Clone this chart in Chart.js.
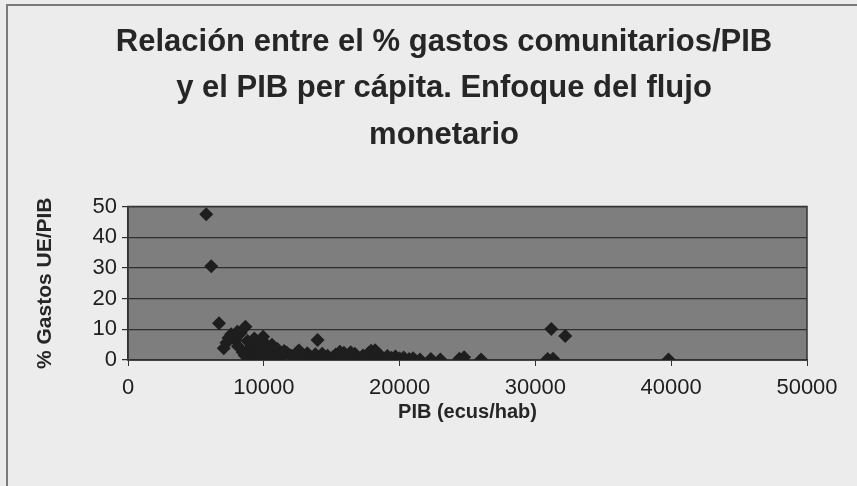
<!DOCTYPE html>
<html>
<head>
<meta charset="utf-8">
<script src="https://cdn.jsdelivr.net/npm/chart.js@4.4.1/dist/chart.umd.min.js"></script>
<style>
html, body { margin: 0; padding: 0; background: #ececec; overflow: hidden; }
#wrap { width: 857px; height: 486px; position: relative; }
</style>
</head>
<body>
<div id="wrap"><canvas id="chart"></canvas></div>
<script>
// PIB per capita (ecus/hab) and % gastos UE / PIB, one entry per region
const gdpPerHead = [
    5760, 6130, 6700, 7050, 7400, 7600, 7900, 8100, 8300, 8650,
    8450, 8800, 8900, 9050, 9150, 9300, 9450, 9550, 9700, 9800,
    9900, 10050, 10150, 10300, 10450, 10600, 10750, 10900, 9250, 8600,
    9600, 10500, 11300, 11700, 12000, 12300, 12500, 12800, 13000, 13200,
    13400, 13600, 13960, 13800, 14100, 14300, 14500, 14700, 14900, 15100,
    15300, 15500, 15700, 15900, 16100, 16300, 16500, 16700, 16900, 17100,
    17300, 17500, 17700, 17900, 18100, 18300, 18500, 18700, 18900, 19100,
    19400, 19700, 20000, 20300, 20700, 21000, 21500, 22300, 23000, 24400,
    24750, 26000, 30900, 31300, 31170, 32200, 39800, 11000, 11500, 12600,
    15600, 16400, 18200, 9950, 8050, 7250
];
const spendShare = [
    47.5, 30.5, 12.0, 3.8, 7.2, 8.4, 6.5, 4.5, 8.8, 10.8,
    2.5, 6.2, 3.5, 0.8, 5.5, 7.0, 3.0, 5.8, 1.8, 4.2,
    6.3, 2.6, 4.8, 1.2, 3.6, 5.0, 2.0, 3.2, 2.0, 1.5,
    0.5, 0.3, 1.0, 2.4, 1.5, 0.6, 2.8, 1.8, 0.8, 2.2,
    1.2, 0.4, 6.5, 1.9, 0.9, 2.0, 0.6, 1.4, 0.3, 1.0,
    1.8, 0.5, 1.2, 2.4, 0.8, 1.6, 0.4, 2.0, 1.0, 0.3,
    1.5, 0.7, 2.2, 3.0, 1.2, 0.5, 1.8, 0.9, 0.4, 1.3,
    0.7, 1.1, 0.5, 0.8, 0.3, 0.6, 0.2, 0.3, 0.2, 0.4,
    0.9, 0.2, 0.3, 0.4, 10.1, 7.8, 0.2, 3.6, 2.9, 3.1,
    2.7, 2.5, 3.2, 7.6, 9.2, 5.6
];
const xTicks = [0, 10000, 20000, 30000, 40000, 50000];
const yTicks = [0, 10, 20, 30, 40, 50];
const chartTitle = [
    'Relación entre el % gastos comunitarios/PIB',
    'y el PIB per cápita. Enfoque del flujo',
    'monetario'
];

const points = gdpPerHead.map((x, i) => ({ x: x, y: spendShare[i] }));
const font = 'Liberation Sans, Arial, sans-serif';

// gray plot area, dark frame round it, and the thin outer border of the sheet
const backdrop = {
    id: 'backdrop',
    beforeDraw(chart) {
        const ctx = chart.ctx;
        const a = chart.chartArea;
        ctx.save();
        ctx.strokeStyle = '#7a7a7a';
        ctx.lineWidth = 2;
        ctx.beginPath();
        ctx.moveTo(7, 486);
        ctx.lineTo(7, 5);
        ctx.lineTo(857, 5);
        ctx.stroke();
        ctx.fillStyle = '#7e7e7e';
        ctx.fillRect(a.left, a.top, a.right - a.left, a.bottom - a.top);
        ctx.restore();
    },
    beforeDatasetsDraw(chart) {
        const ctx = chart.ctx;
        const a = chart.chartArea;
        ctx.save();
        ctx.strokeStyle = '#333';
        ctx.lineWidth = 1.5;
        ctx.strokeRect(a.left, a.top, a.right - a.left, a.bottom - a.top);
        ctx.restore();
    }
};

new Chart(document.getElementById('chart'), {
    type: 'scatter',
    data: {
        datasets: [{
            data: points,
            pointStyle: 'rectRot',
            pointRadius: 7,
            pointHoverRadius: 7,
            backgroundColor: '#1e1e1e',
            borderColor: '#1e1e1e',
            borderWidth: 0
        }]
    },
    options: {
        responsive: true,
        maintainAspectRatio: false,
        animation: false,
        layout: { padding: { left: 33, right: 2, top: 0, bottom: 62 } },
        plugins: {
            legend: { display: false },
            tooltip: { enabled: false },
            title: {
                display: true,
                text: chartTitle,
                color: '#262626',
                font: { family: font, size: 31, weight: 'bold', lineHeight: 1.5 },
                padding: { top: 19, bottom: 48 }
            }
        },
        scales: {
            x: {
                type: 'linear',
                min: 0,
                max: 50000,
                afterBuildTicks(scale) { scale.ticks = xTicks.map(v => ({ value: v })); },
                afterFit(scale) { scale.height = 64; scale.paddingRight = 50; },
                grid: { drawOnChartArea: false, drawTicks: true, tickLength: 6, color: '#333' },
                border: { display: true, color: '#333', width: 1.5 },
                ticks: {
                    color: '#1e1e1e',
                    padding: 9,
                    font: { family: font, size: 22 },
                    callback: v => String(v)
                },
                title: {
                    display: true,
                    text: 'PIB (ecus/hab)',
                    color: '#262626',
                    font: { family: font, size: 20, weight: 'bold' },
                    padding: { top: 0, bottom: 0 }
                }
            },
            y: {
                type: 'linear',
                min: 0,
                max: 50,
                afterBuildTicks(scale) { scale.ticks = yTicks.map(v => ({ value: v })); },
                afterFit(scale) { scale.width = 95; },
                grid: { color: '#2e2e2e', lineWidth: 1.2, drawTicks: true, tickLength: 6 },
                border: { display: true, color: '#333', width: 1.5 },
                ticks: {
                    color: '#1e1e1e',
                    padding: 5,
                    font: { family: font, size: 22 }
                },
                title: {
                    display: true,
                    text: '% Gastos UE/PIB',
                    color: '#262626',
                    font: { family: font, size: 21, weight: 'bold' },
                    padding: { top: 0, bottom: 0 }
                }
            }
        }
    },
    plugins: [backdrop]
});
</script>
</body>
</html>
